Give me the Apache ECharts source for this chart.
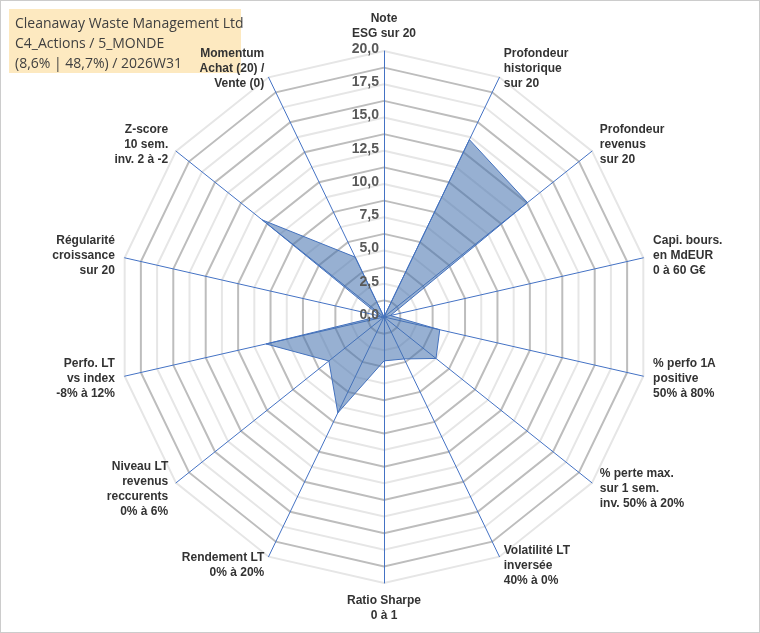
<!DOCTYPE html><html><head><meta charset="utf-8"><script src="https://cdn.jsdelivr.net/npm/echarts@6/dist/echarts.min.js"></script>
<style>body{margin:0}#c{width:760px;height:633px;box-sizing:border-box;border:1px solid #ccc}</style></head><body><div id="c"></div><script>
const indicators=["Note\nESG sur 20","Profondeur\nhistorique\nsur 20","Profondeur\nrevenus\nsur 20","Capi. bours.\nen MdEUR\n0 à 60 G€","% perfo 1A\npositive\n50% à 80%","% perte max.\nsur 1 sem.\ninv. 50% à 20%","Volatilité LT\ninversée\n40% à 0%","Ratio Sharpe\n0 à 1","Rendement LT\n0% à 20%","Niveau LT\nrevenus\nreccurents\n0% à 6%","Perfo. LT\nvs index\n-8% à 12%","Régularité\ncroissance\nsur 20","Z-score\n10 sem.\ninv. 2 à -2","Momentum\nAchat (20) /\nVente (0)"];
const values=[0,14.8,13.8,0.5,4.3,5.0,3.5,3.3,8.0,5.3,9.1,0.3,11.7,5.0];
const ticks=["0,0","2,5","5,0","7,5","10,0","12,5","15,0","17,5","20,0"];
// ECharts radar runs counter-clockwise: reorder to get clockwise layout
const order=[0].concat(indicators.map((_,i)=>i).slice(1).reverse());
const ch=echarts.init(document.getElementById('c'));
const gridColors=[];for(let i=0;i<16;i++)gridColors.push(i%2===1?'#bdbdbd':'#e6e6e6');
const g=[{type:'rect',left:8,top:8,shape:{width:232,height:64},style:{fill:'#fde9c0'}},
{type:'text',left:14,top:13,style:{text:'Cleanaway Waste Management Ltd\nC4_Actions / 5_MONDE\n(8,6% | 48,7%) / 2026W31',font:'14px "Open Sans"',lineHeight:20,fill:'#404040'}}];
ticks.forEach((t,i)=>{g.push({type:'text',z:10,right:760-380,top:316-i*2.5*13.3-9,style:{text:t,align:'right',font:'bold 14px "Liberation Sans"',fill:'#595959'}});});
ch.setOption({
graphic:g,
radar:{center:[383,316],radius:266,startAngle:90,splitNumber:16,
indicator:order.map(i=>({name:indicators[i],min:0,max:20})),
axisName:{color:'#333',fontWeight:'bold',fontSize:12,fontFamily:'Liberation Sans',lineHeight:15},
nameGap:10,
axisLine:{lineStyle:{color:'#4472c4',width:1}},
splitLine:{lineStyle:{color:gridColors,width:2}},
splitArea:{show:false}},
series:[{type:'radar',symbol:'none',data:[{value:order.map(i=>values[i])}],lineStyle:{color:'#4472c4',width:1},areaStyle:{color:'rgba(70,114,175,0.8)'}}],
});
</script></body></html>
